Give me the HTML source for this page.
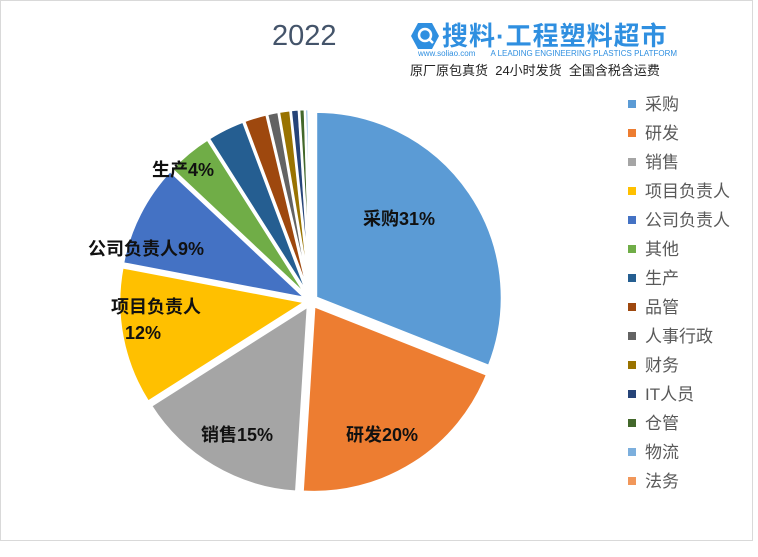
<!DOCTYPE html>
<html><head><meta charset="utf-8"><style>
body{margin:0;width:758px;height:557px;background:#fff;overflow:hidden;font-family:"Liberation Sans","Noto Sans CJK SC",sans-serif}
#frame{position:absolute;left:0;top:0;width:751px;height:539px;border:1px solid #d9d9d9}
.lg{position:absolute;left:628px;font-size:17px;color:#595959;line-height:20px}
.lg i{display:inline-block;width:8px;height:8px;margin-right:9px;vertical-align:2px}
</style></head><body>
<div id="frame"></div>
<div style="position:absolute;left:272px;top:20px;font-size:29px;color:#44546A">2022</div>
<div style="position:absolute;left:410px;top:18px;width:270px;height:58px">
 <svg width="30" height="30" style="position:absolute;left:0;top:3px"><polygon points="8,2 22,2 29,15 22,28 8,28 1,15" fill="#2f8fe0"/><circle cx="15" cy="14" r="6" fill="none" stroke="#fff" stroke-width="2.5"/><line x1="19" y1="18" x2="23" y2="22" stroke="#fff" stroke-width="2.5"/></svg>
 <div style="position:absolute;left:32px;top:-2px;font-size:26px;font-weight:bold;color:#2f8fe0;white-space:nowrap;letter-spacing:1px">搜料·工程塑料超市</div>
 <div style="position:absolute;left:8px;top:31px;font-size:8px;color:#2f8fe0;white-space:nowrap">www.soliao.com &nbsp; &nbsp; &nbsp; A LEADING ENGINEERING PLASTICS PLATFORM</div>
 <div style="position:absolute;left:0;top:42px;font-size:13px;color:#222;white-space:nowrap">原厂原包真货 &nbsp;24小时发货 &nbsp;全国含税含运费</div>
</div>
<svg id="pie" width="758" height="557" style="position:absolute;left:0;top:0"></svg>
<div id="leg"></div>
<script>
var d=[["采购",31,"#5B9BD5"],["研发",20,"#ED7D31"],["销售",15,"#A5A5A5"],["项目负责人",12,"#FFC000"],["公司负责人",9,"#4472C4"],["其他",4,"#70AD47"],["生产",3.3,"#255E91"],["品管",2,"#9E480E"],["人事行政",1,"#636363"],["财务",1,"#997300"],["IT人员",0.7,"#264478"],["仓管",0.5,"#43682B"],["物流",0.3,"#7CAFDD"],["法务",0.2,"#F1975A"]];
var cx=311,cy=301,r=186,ex=6,a=0,s="",L="";
d.forEach(function(e,i){var a1=a,a2=a+e[1]/100*2*Math.PI,m=(a1+a2)/2;
var ox=cx+ex*Math.sin(m),oy=cy-ex*Math.cos(m);
var x1=ox+r*Math.sin(a1),y1=oy-r*Math.cos(a1),x2=ox+r*Math.sin(a2),y2=oy-r*Math.cos(a2);
s+='<path d="M'+ox+','+oy+'L'+x1+','+y1+'A'+r+','+r+' 0 '+((a2-a1)>Math.PI?1:0)+' 1 '+x2+','+y2+'Z" fill="'+e[2]+'" stroke="#fff" stroke-width="2.5"/>';
a=a2;
L+='<div class="lg" style="top:'+(95+i*29)+'px"><i style="background:'+e[2]+'"></i>'+e[0]+'</div>';});
var t=[["采购31%",399,225],["研发20%",382,441],["销售15%",237,441],["项目负责人",156,313],["12%",143,339],["公司负责人9%",146,255],["生产4%",183,176]];
t.forEach(function(e){s+='<text x="'+e[1]+'" y="'+e[2]+'" text-anchor="middle" font-size="18" font-weight="bold" fill="#111" font-family="Liberation Sans,Noto Sans CJK SC,sans-serif">'+e[0]+'</text>';});
document.getElementById("pie").innerHTML=s;document.getElementById("leg").innerHTML=L;
</script>
</body></html>
